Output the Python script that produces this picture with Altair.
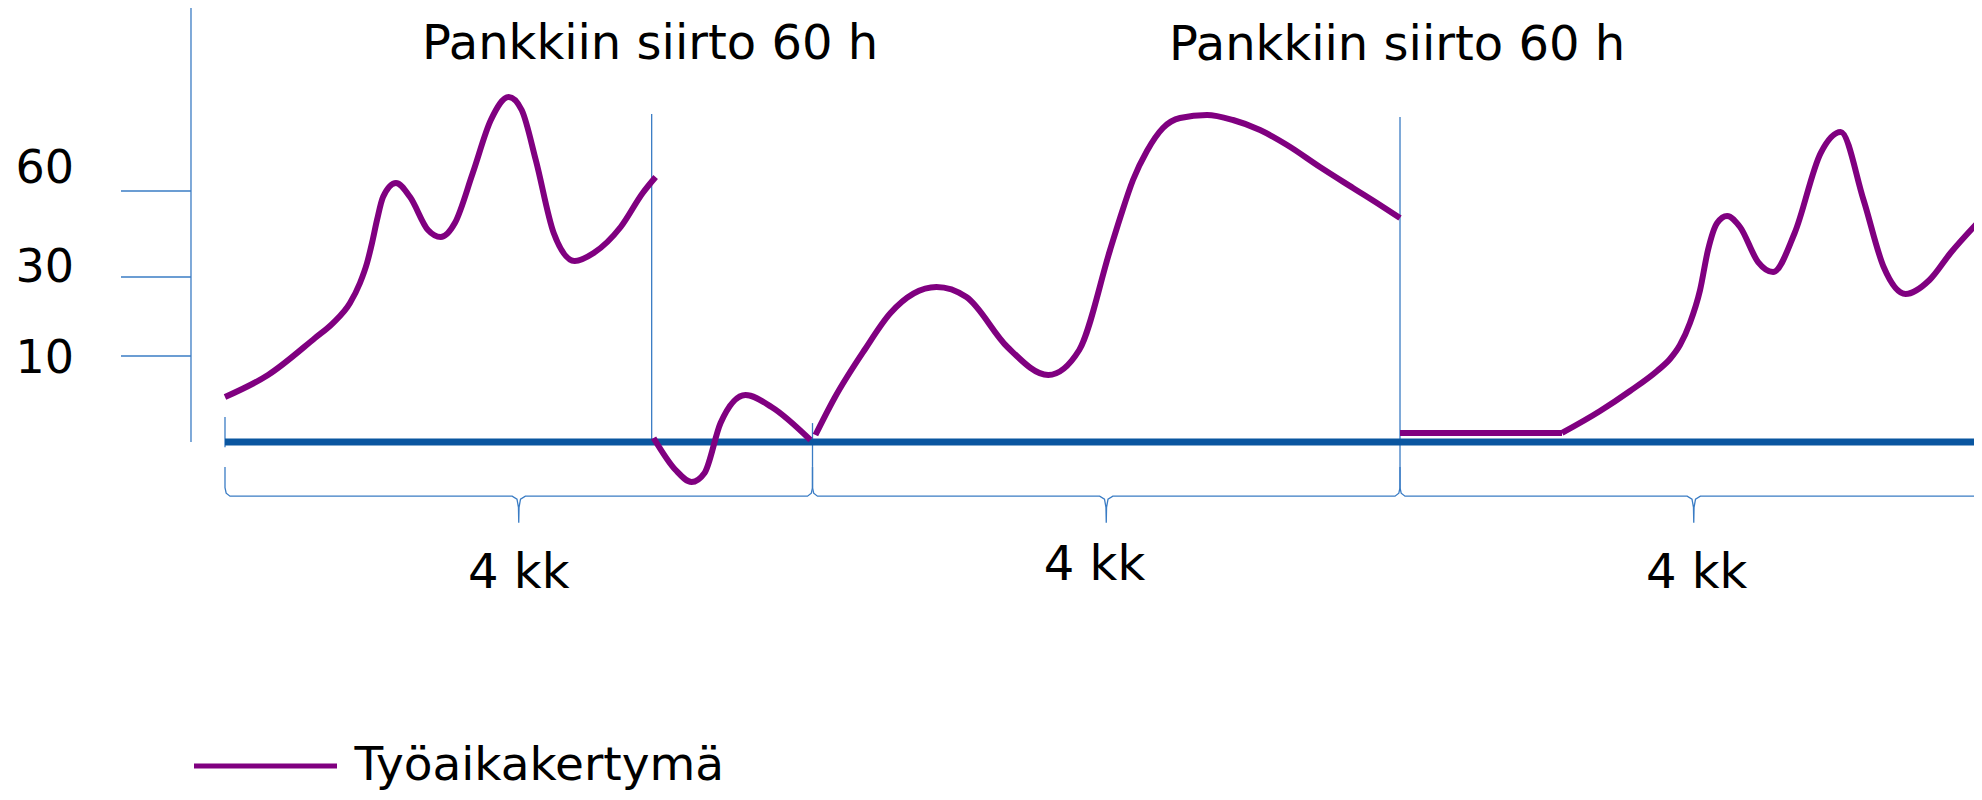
import altair as alt
import pandas as pd

# ---------------- data (x in months, y in hours) ----------------
series_name = "Työaikakertymä"

seg1_month = [0.000, 0.293, 0.613, 0.735, 0.851, 0.919, 0.967, 1.001, 1.035, 1.076, 1.164,
              1.260, 1.382, 1.469, 1.565, 1.687, 1.810, 1.932, 2.020, 2.116, 2.238, 2.381,
              2.510, 2.694, 2.844, 2.932]
seg1_hours = [5.23, 7.79, 14.56, 18.35, 23.42, 28.48, 34.88, 41.86, 49.88, 57.90, 62.79,
              57.90, 46.39, 43.95, 48.83, 66.28, 84.76, 92.79, 88.25, 70.81, 45.35, 35.58,
              38.37, 47.44, 59.30, 64.88]

seg2_month = [2.918, 3.068, 3.177, 3.265, 3.374, 3.544, 3.721, 3.986]
seg2_hours = [0.47, -3.26, -4.65, -3.60, 2.21, 5.47, 4.07, 0.23]

seg3_month = [4.020, 4.150, 4.354, 4.531, 4.844, 5.048, 5.327, 5.605, 5.816, 6.026, 6.094,
              6.182, 6.277, 6.386, 6.502, 6.686, 6.863, 7.047, 7.231, 7.455, 7.680, 7.864, 8.000]
seg3_hours = [0.81, 5.12, 11.52, 20.89, 27.47, 24.94, 12.28, 7.79, 11.52, 39.42, 50.58,
              63.84, 73.95, 81.97, 85.46, 86.51, 84.76, 81.28, 76.04, 68.37, 61.05, 55.11, 50.58]

seg4a_month = [8.0, 9.103]
seg4a_hours = [1.05, 1.05]

seg4b_month = [9.103, 9.362, 9.566, 9.750, 9.838, 9.906, 9.974, 10.043, 10.097, 10.159,
               10.227, 10.315, 10.438, 10.540, 10.687, 10.864, 11.000, 11.156, 11.293,
               11.442, 11.605, 11.748, 11.963]
seg4b_hours = [1.05, 3.60, 5.93, 8.26, 9.65, 12.78, 18.35, 26.71, 39.42, 48.83,
               51.28, 47.44, 35.23, 31.74, 45.35, 73.25, 80.58, 56.86, 33.49,
               25.70, 29.24, 38.37, 50.58]

tick_values = [10, 30, 60]
tick_labels = ["10", "30", "60"]
tick_label_hours = [8.02, 28.73, 62.79]
tick_label_month = -1.028
tick_start_month = -0.708
axis_month = -0.2315

vline_month = [axis_month, 0.0, 2.905, 4.0, 8.0]
vline_top = [124.0, 2.9, 86.9, 2.2, 85.8]
vline_bottom = [0.0, -0.6, 0.0, -2.9, -2.9]

baseline_start = 0.0
baseline_end = 12.0

brace_start = [0.0, 4.0, 8.0]
brace_end = [4.0, 8.0, 12.0]
brace_level = -6.3
brace_tip = -9.4
brace_end_top = -2.9

period_labels = ["4 kk", "4 kk", "4 kk"]
period_label_month = [2.0, 5.92, 10.02]
period_label_hours = [-16.98, -16.05, -16.98]

transfer_labels = ["Pankkiin siirto 60 h", "Pankkiin siirto 60 h"]
transfer_month = [2.894, 7.980]
transfer_hours = [106.0, 105.7]

# ---------------- tables ----------------
rows = []
for name, ms, hs in [("s1", seg1_month, seg1_hours), ("s2", seg2_month, seg2_hours),
                     ("s3", seg3_month, seg3_hours), ("s4a", seg4a_month, seg4a_hours),
                     ("s4b", seg4b_month, seg4b_hours)]:
    for m, h in zip(ms, hs):
        rows.append({"seg": name, "month": m, "hours": h, "series": series_name})
curve_df = pd.DataFrame(rows)

vline_df = pd.DataFrame({"month": vline_month, "top": vline_top, "bottom": vline_bottom})
tick_df = pd.DataFrame({"m0": [tick_start_month] * 3, "m1": [axis_month] * 3, "h": tick_values})
base_df = pd.DataFrame({"m0": [baseline_start], "m1": [baseline_end], "h": [0.0]})

# brace outline (decorative glyph shape relative to each span)
brace_rows = []
for b, (s, e) in enumerate(zip(brace_start, brace_end)):
    mid = (s + e) / 2
    L = brace_level
    pts = [(s, brace_end_top), (s, L + 1.0), (s + 0.008, L + 0.35), (s + 0.034, L),
           (mid - 0.045, L), (mid - 0.012, L - 0.35), (mid - 0.002, L - 1.3), (mid, brace_tip),
           (mid + 0.002, L - 1.3), (mid + 0.012, L - 0.35), (mid + 0.045, L),
           (e - 0.034, L), (e - 0.008, L + 0.35), (e, L + 1.0), (e, brace_end_top)]
    for i, (m, h) in enumerate(pts):
        brace_rows.append({"brace": b, "i": i, "month": m, "hours": h})
brace_df = pd.DataFrame(brace_rows)

text_df = pd.DataFrame({
    "month": period_label_month + transfer_month,
    "hours": period_label_hours + transfer_hours,
    "label": period_labels + transfer_labels,
})
ticklab_df = pd.DataFrame({"month": [tick_label_month] * 3, "hours": tick_label_hours,
                           "label": tick_labels})

# ---------------- scales ----------------
W, H = 1966, 784
XS = alt.Scale(domain=[-1.4774, 11.908], nice=False, zero=False)
YS = alt.Scale(domain=[-40.70, 0, 10, 30, 60, 123.83],
               range=[784, 434, 348, 269, 183, 0], nice=False, zero=False)

THIN = "#3a7cc4"
BASE = "#0a56a0"
PURPLE = "#800080"
FONT = "DejaVu Sans"

vlines = alt.Chart(vline_df).mark_rule(color=THIN, strokeWidth=1.3).encode(
    x=alt.X("month:Q", scale=XS, axis=None),
    y=alt.Y("top:Q", scale=YS, axis=None),
    y2="bottom:Q",
)

ticks = alt.Chart(tick_df).mark_rule(color=THIN, strokeWidth=1.3).encode(
    x=alt.X("m0:Q", scale=XS, axis=None),
    x2="m1:Q",
    y=alt.Y("h:Q", scale=YS, axis=None),
)

baseline = alt.Chart(base_df).mark_rule(color=BASE, strokeWidth=7, clip=True).encode(
    x=alt.X("m0:Q", scale=XS, axis=None),
    x2="m1:Q",
    y=alt.Y("h:Q", scale=YS, axis=None),
)

braces = alt.Chart(brace_df).mark_line(color=THIN, strokeWidth=1.3, clip=True).encode(
    x=alt.X("month:Q", scale=XS, axis=None),
    y=alt.Y("hours:Q", scale=YS, axis=None),
    detail="brace:N",
    order="i:Q",
)

curve = alt.Chart(curve_df).mark_line(interpolate="monotone", strokeWidth=6, clip=True).encode(
    x=alt.X("month:Q", scale=XS, axis=None),
    y=alt.Y("hours:Q", scale=YS, axis=None),
    detail="seg:N",
    color=alt.Color("series:N",
                    scale=alt.Scale(domain=[series_name], range=[PURPLE]),
                    legend=alt.Legend(orient="none", legendX=183.5, legendY=684, title=None,
                                      symbolType="stroke", symbolSize=20449, symbolStrokeWidth=5,
                                      labelFontSize=47, labelFont=FONT, labelColor="black",
                                      labelOffset=15, labelLimit=0, padding=0)),
)

texts = alt.Chart(text_df).mark_text(font=FONT, fontSize=48, color="black",
                                     align="center", baseline="alphabetic").encode(
    x=alt.X("month:Q", scale=XS, axis=None),
    y=alt.Y("hours:Q", scale=YS, axis=None),
    text="label:N",
)

ticklabs = alt.Chart(ticklab_df).mark_text(font=FONT, fontSize=46, color="black",
                                           align="right", baseline="alphabetic").encode(
    x=alt.X("month:Q", scale=XS, axis=None),
    y=alt.Y("hours:Q", scale=YS, axis=None),
    text="label:N",
)

chart = alt.layer(vlines, ticks, baseline, braces, curve, texts, ticklabs).properties(
    width=W, height=H,
    autosize=alt.AutoSizeParams(type="none"),
    padding=0,
    background="white",
).configure_view(stroke=None)

chart.save("out.html", embed_options={"renderer": "svg", "actions": False})
